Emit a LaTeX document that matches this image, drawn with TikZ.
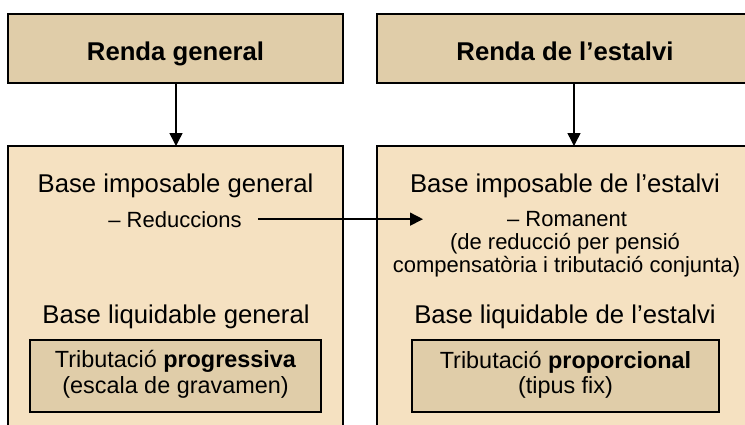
\documentclass[tikz,border=0pt]{standalone}
\usepackage{fontspec}
\setmainfont{Liberation Sans}
\usetikzlibrary{arrows.meta}
\definecolor{tanbox}{HTML}{E0CDA9}
\definecolor{creambox}{HTML}{F5E1C1}
\begin{document}
\begin{tikzpicture}[x=1pt,y=-1pt,
  box/.style={draw=black, line width=2pt, inner sep=0pt, outer sep=0pt, anchor=north west},
  arr/.style={line width=1.5pt, -{Triangle[length=13pt,width=13pt]}},
  txt/.style={inner sep=0pt, anchor=base},
  hdr/.style={txt, font=\fontsize{25.7}{28}\selectfont\bfseries},
  big/.style={txt, font=\fontsize{25.7}{28}\selectfont},
  small/.style={txt, font=\fontsize{22}{23.3}\selectfont},
  mid/.style={txt, font=\fontsize{23.4}{21}\selectfont}]
\clip (0,0) rectangle (745,424);
\fill[white] (0,0) rectangle (745,424);
% boxes
\node[box, fill=tanbox, minimum width=335pt, minimum height=69pt] (rg) at (8,14) {};
\node[box, fill=tanbox, minimum width=376pt, minimum height=69pt] (re) at (377,14) {};
\node[box, fill=creambox, minimum width=335pt, minimum height=290pt] (bg) at (8,146) {};
\node[box, fill=creambox, minimum width=376pt, minimum height=290pt] (be) at (377,146) {};
\node[box, fill=tanbox, minimum width=291pt, minimum height=72pt] (tg) at (30,340) {};
\node[box, fill=tanbox, minimum width=307pt, minimum height=72pt] (te) at (412,340) {};
% headers
\node[hdr] (rgt) at (175.5,60) {Renda general};
\node[hdr] (ret) at (565,60) {Renda de l’estalvi};
% left column
\node[big] (t1) at (175.5,192) {Base imposable general};
\node[small] (t2) at (175,227) {– Reduccions};
\node[big] (t3) at (176,323.5) {Base liquidable general};
\node[mid] (t4) at (175.5,367) {Tributació \textbf{progressiva}};
\node[mid] (t5) at (175.5,393) {(escala de gravamen)};
% right column
\node[big] (u1) at (565,192) {Base imposable de l’estalvi};
\node[small] (u2) at (567,226) {– Romanent};
\node[small] (u3) at (565,249.5) {(de reducció per pensió};
\node[small] (u4) at (566.5,272.7) {compensatòria i tributació conjunta)};
\node[big] (u5) at (565,323.5) {Base liquidable de l’estalvi};
\node[mid] (u6) at (565.5,368) {Tributació \textbf{proporcional}};
\node[mid] (u7) at (565.5,393) {(tipus fix)};
% connectors
\draw[arr] ([xshift=0.5pt]rg.south) -- ([xshift=0.5pt]bg.north);
\draw[arr] ([xshift=9pt]re.south) -- ([xshift=9pt]be.north);
\coordinate (rt) at (423,0);
\draw[arr] ([xshift=16pt]t2.east) -- (t2.east -| rt);
\end{tikzpicture}
\end{document}
